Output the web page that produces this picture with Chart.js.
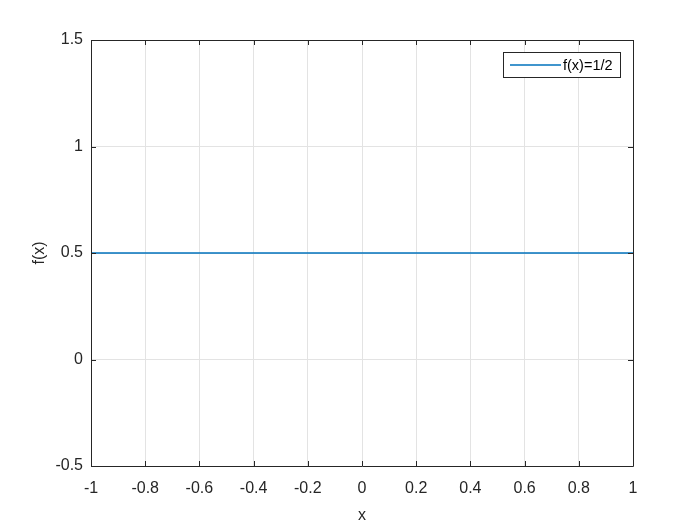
<!DOCTYPE html>
<html><head><meta charset="utf-8">
<script src="https://cdn.jsdelivr.net/npm/chart.js@4"></script>
<style>html,body{margin:0;padding:0;background:#fff}#wrap{width:700px;height:525px}</style>
</head><body><div id="wrap"><canvas id="c" width="700" height="525"></canvas></div>
<script>
const xValues = [-1, 1];
const yValues = [0.5, 0.5];
const seriesLabel = 'f(x)=1/2';
const xTicks = [-1, -0.8, -0.6, -0.4, -0.2, 0, 0.2, 0.4, 0.6, 0.8, 1];
const yTicks = [-0.5, 0, 0.5, 1, 1.5];
const FONT = '"Liberation Sans", Arial, sans-serif';

const boxPlugin = {
  id: 'box',
  afterDraw(chart) {
    const ctx = chart.ctx, a = chart.chartArea;
    const xs = chart.scales.x, ys = chart.scales.y;
    ctx.save();
    ctx.strokeStyle = '#262626';
    ctx.lineWidth = 1;
    ctx.beginPath();
    ctx.rect(Math.round(a.left)+0.5, Math.round(a.top)+0.5, Math.round(a.right-a.left), Math.round(a.bottom-a.top));
    const L = 5;
    xTicks.forEach(v => {
      const p = Math.round(xs.getPixelForValue(v)) + 0.5;
      ctx.moveTo(p, a.bottom); ctx.lineTo(p, a.bottom - L);
      ctx.moveTo(p, a.top); ctx.lineTo(p, a.top + L);
    });
    yTicks.forEach(v => {
      const p = Math.round(ys.getPixelForValue(v)) + 0.5;
      ctx.moveTo(a.left, p); ctx.lineTo(a.left + L, p);
      ctx.moveTo(a.right, p); ctx.lineTo(a.right - L, p);
    });
    ctx.stroke();
    // legend
    const bx = 503.5, by = 52.5, bw = 117, bh = 25;
    ctx.fillStyle = '#fff';
    ctx.fillRect(bx, by, bw, bh);
    ctx.strokeStyle = '#262626';
    ctx.strokeRect(bx, by, bw, bh);
    ctx.beginPath();
    ctx.strokeStyle = '#0072BD';
    ctx.lineWidth = 1.5;
    ctx.moveTo(510, 65); ctx.lineTo(561, 65);
    ctx.stroke();
    ctx.fillStyle = '#000';
    ctx.font = '14.5px ' + FONT;
    ctx.textBaseline = 'middle';
    ctx.textAlign = 'left';
    ctx.fillText(seriesLabel, 563, 65.5);
    ctx.restore();
  }
};

new Chart(document.getElementById('c'), {
  type: 'line',
  data: {
    datasets: [{
      label: seriesLabel,
      data: xValues.map((x, i) => ({x, y: yValues[i]})),
      borderColor: '#0072BD',
      borderWidth: 1.5,
      pointRadius: 0,
      fill: false,
      tension: 0
    }]
  },
  options: {
    responsive: false,
    animation: false,
    devicePixelRatio: 1,
    layout: {padding: {left: 0, right: 67, top: 40, bottom: 0}},
    plugins: {legend: {display: false}, tooltip: {enabled: false}},
    scales: {
      x: {
        type: 'linear', min: -1, max: 1,
        afterBuildTicks(s) { s.ticks = xTicks.map(v => ({value: v})); },
        afterFit(s) { s.height = 59; },
        ticks: {
          color: '#262626', font: {family: FONT, size: 16}, padding: 13,
          maxRotation: 0, autoSkip: false,
          callback: v => String(Math.round(v * 10) / 10)
        },
        grid: {color: '#e3e3e3', drawTicks: false},
        border: {display: false},
        title: {display: true, text: 'x', color: '#262626', font: {family: FONT, size: 16}, padding: {top: 0, bottom: 0}}
      },
      y: {
        type: 'linear', min: -0.5, max: 1.5,
        afterBuildTicks(s) { s.ticks = yTicks.map(v => ({value: v})); },
        afterFit(s) { s.width = 91; },
        ticks: {
          color: '#262626', font: {family: FONT, size: 16}, padding: 8,
          autoSkip: false,
          callback: v => String(v)
        },
        grid: {color: '#e3e3e3', drawTicks: false},
        border: {display: false},
        title: {display: true, text: 'f(x)', color: '#262626', font: {family: FONT, size: 16}, padding: {top: 30, bottom: 0}}
      }
    }
  },
  plugins: [boxPlugin]
});
</script></body></html>
